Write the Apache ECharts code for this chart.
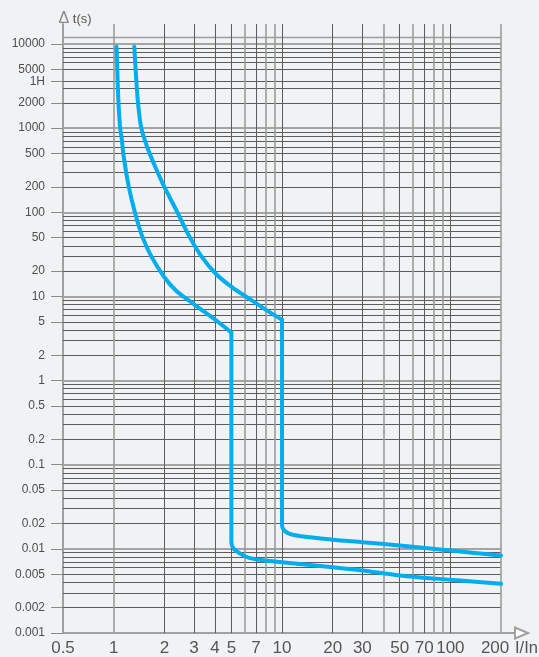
<!DOCTYPE html>
<html>
<head>
<meta charset="utf-8">
<script src="https://cdn.jsdelivr.net/npm/echarts@6/dist/echarts.min.js"></script>
<style>
html,body{margin:0;padding:0;background:#f1f2f4;}
#chart{width:539px;height:657px;}
</style>
</head>
<body>
<div id="chart"></div>
<script>
// ---- data ----
const xTickValues = [0.5, 1, 2, 3, 4, 5, 7, 10, 20, 30, 50, 70, 100, 200];
const xTickLabels = ['0.5', '1', '2', '3', '4', '5', '7', '10', '20', '30', '50', '70', '100', '200'];
const xAxisEnd = 242;          // axis line runs a little past 200, to the arrow
const xAxisTitle = 'I/In';
const yTickValues = [10000, 5000, 3600, 2000, 1000, 500, 200, 100, 50, 20, 10, 5, 2, 1, 0.5, 0.2, 0.1, 0.05, 0.02, 0.01, 0.005, 0.002, 0.001];
const yTickLabels = ['10000', '5000', '1H', '2000', '1000', '500', '200', '100', '50', '20', '10', '5', '2', '1', '0.5', '0.2', '0.1', '0.05', '0.02', '0.01', '0.005', '0.002', '0.001'];
const yAxisTop = 17300;        // vertical grid lines extend above 10000
const yAxisTitle = 't(s)';

const xGridLines = [1, 2, 3, 4, 5, 6, 7, 8, 9, 10, 20, 30, 40, 50, 60, 70, 80, 90, 100, 200];
const xGridLight = [1, 6, 8, 9, 40, 60, 80, 90, 200];
const yGridLines = [
  12000, 10000, 9000, 8000, 7000, 6000, 5000, 3600, 3000, 2000,
  1000, 900, 800, 700, 600, 500, 400, 300, 200,
  100, 90, 80, 70, 60, 50, 40, 30, 20,
  10, 9, 8, 7, 6, 5, 4, 3, 2,
  1, 0.9, 0.8, 0.7, 0.6, 0.5, 0.4, 0.3, 0.2,
  0.1, 0.09, 0.08, 0.07, 0.06, 0.05, 0.04, 0.03, 0.02,
  0.01, 0.009, 0.008, 0.007, 0.006, 0.005, 0.004, 0.003, 0.002
];

// curve 1 (lower / left): thermal part, then magnetic part (from the knee down)
const curveAThermal = [
  [1.04, 9300], [1.056, 3520], [1.07, 1850], [1.093, 1000], [1.115, 765], [1.145, 472],
  [1.23, 200], [1.34, 98], [1.48, 51.4], [1.68, 29.5], [2.0, 16.9], [2.35, 11.7],
  [2.82, 8.86], [3.41, 6.68], [4.14, 5.04], [5.0, 3.73]
];
const curveAMagnetic = [
  [5.0, 3.73], [5.0, 0.0120], [5.16, 0.0100], [5.67, 0.00872], [6.37, 0.00782], [7.9, 0.00727],
  [10, 0.00694], [20, 0.00605], [30, 0.00553], [50, 0.00483], [100, 0.00429], [200, 0.00385]
];
// curve 2 (upper / right)
const curveBThermal = [
  [1.325, 9300], [1.365, 3520], [1.40, 1850], [1.46, 1000], [1.587, 585], [1.77, 343],
  [2.0, 200], [2.35, 107], [2.82, 51.4], [3.34, 29.5], [4.04, 18.6], [5.06, 12.8],
  [6.68, 8.86], [8.25, 6.68], [10, 5.27]
];
const curveBMagnetic = [
  [10, 5.27], [10, 0.0191], [10.26, 0.0167], [11.0, 0.0152], [12.7, 0.0142],
  [20, 0.01285], [30, 0.0120], [50, 0.01096], [100, 0.00954], [200, 0.00833]
];

// ---- chart ----
const FONT = '"Liberation Sans", Arial, "DejaVu Sans", sans-serif';
const CURVE_COLOR = '#00aeef';

function sameVal(a, b) { return Math.abs(Math.log10(a) - Math.log10(b)) < 1e-3; }

function yLineStyle(v) {
  const m = Math.round(v / Math.pow(10, Math.floor(Math.log10(v) + 1e-9)) * 10) / 10;
  if (m === 1) return { color: '#a4a4a4', width: 2 };
  if (m === 0.8 || m === 0.6 || m === 0.4 || m === 1.2) return { color: '#9c9c9c', width: 1.4 };
  return { color: '#5c5c5c', width: 1 };
}

const hLines = yGridLines.map(v => [
  { coord: [xTickValues[0], v], lineStyle: Object.assign({ type: 'solid' }, yLineStyle(v)) },
  { coord: [xTickValues[xTickValues.length - 1], v] }
]);
const vLines = xGridLines.map(x => [
  { coord: [x, yTickValues[yTickValues.length - 1]],
    lineStyle: xGridLight.indexOf(x) >= 0 ? { type: 'solid', color: '#9c9c9c', width: 1.6 } : { type: 'solid', color: '#5c5c5c', width: 1 } },
  { coord: [x, yAxisTop] }
]);

const curveStyle = { color: CURVE_COLOR, width: 4, cap: 'round', join: 'round' };
function curveSeries(name, data) {
  return { name: name, type: 'line', data: data, z: 5, showSymbol: false, smooth: 0.3, silent: true, lineStyle: curveStyle };
}

const chart = echarts.init(document.getElementById('chart'), null, { renderer: 'canvas' });
chart.setOption({
  backgroundColor: '#f1f2f4',
  animation: false,
  grid: { left: 63, right: 24, top: 24, bottom: 24, containLabel: false, outerBoundsMode: 'none' },
  xAxis: {
    type: 'log', logBase: 10, min: xTickValues[0], max: xAxisEnd,
    name: ' \n' + xAxisTitle, nameLocation: 'end', nameGap: 0, nameMoveOverlap: false,
    nameTextStyle: { color: '#555', fontSize: 16.5, lineHeight: 31, fontFamily: FONT, align: 'left', verticalAlign: 'middle' },
    axisLine: {
      show: true, lineStyle: { color: '#a0a0a0', width: 2 },
      symbol: ['none', 'emptyTriangle'], symbolSize: [11, 13], symbolOffset: [0, 6.5]
    },
    axisTick: { show: false },
    splitLine: { show: false },
    minorTick: { show: false },
    axisLabel: {
      customValues: xTickValues,
      margin: 7,
      color: '#555', fontSize: 17, fontFamily: FONT,
      formatter: function (v) {
        const i = xTickValues.findIndex(t => sameVal(t, v));
        if (i < 0) return '';
        return i === xTickValues.length - 1 ? '{last|' + xTickLabels[i] + '}' : xTickLabels[i];
      },
      rich: { last: { color: '#555', fontSize: 17, fontFamily: FONT, padding: [0, 12, 0, 0] } }
    }
  },
  yAxis: {
    type: 'log', logBase: 10, min: yTickValues[yTickValues.length - 1], max: yAxisTop,
    name: '{sp|}{d|Δ}{t| ' + yAxisTitle + '}', nameLocation: 'end', nameGap: -3,
    nameTextStyle: {
      rich: {
        sp: { width: 24 },
        d: { fontSize: 16, color: '#8a8a8a', fontFamily: FONT },
        t: { fontSize: 13, color: '#555', fontFamily: FONT }
      }
    },
    axisLine: { show: true, lineStyle: { color: '#a0a0a0', width: 2 } },
    axisTick: { show: true, customValues: yTickValues, length: 12, lineStyle: { color: '#8a8a8a', width: 1 } },
    splitLine: { show: false },
    minorTick: { show: false },
    axisLabel: {
      customValues: yTickValues,
      margin: 18,
      color: '#4e4e4e', fontSize: 12, fontFamily: FONT,
      formatter: function (v) {
        const i = yTickValues.findIndex(t => sameVal(t, v));
        return i >= 0 ? yTickLabels[i] : '';
      }
    }
  },
  series: [
    {
      name: 'grid', type: 'line', data: [], z: 1, silent: true,
      markLine: {
        silent: true, symbol: ['none', 'none'], animation: false,
        label: { show: false },
        emphasis: { disabled: true },
        data: hLines.concat(vLines)
      }
    },
    curveSeries('curve A thermal', curveAThermal),
    curveSeries('curve A magnetic', curveAMagnetic),
    curveSeries('curve B thermal', curveBThermal),
    curveSeries('curve B magnetic', curveBMagnetic)
  ]
});
</script>
</body>
</html>
